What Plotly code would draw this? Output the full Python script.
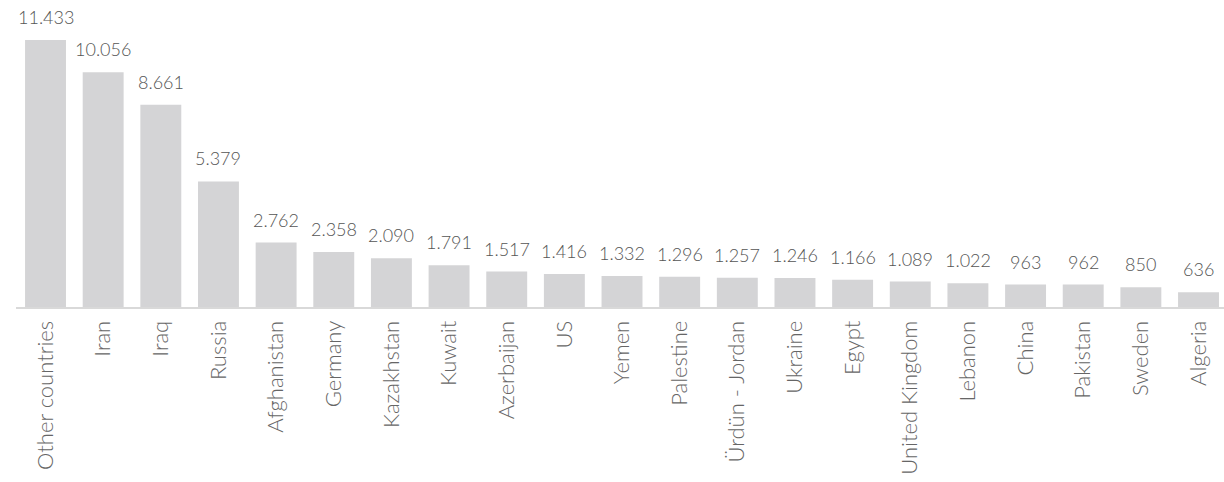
import plotly.graph_objects as go

countries = ["Other countries", "Iran", "Iraq", "Russia", "Afghanistan", "Germany",
             "Kazakhstan", "Kuwait", "Azerbaijan", "US", "Yemen", "Palestine",
             "Ürdün - Jordan", "Ukraine", "Egypt", "United Kingdom", "Lebanon",
             "China", "Pakistan", "Sweden", "Algeria"]
counts = [11433, 10056, 8661, 5379, 2762, 2358, 2090, 1791, 1517, 1416, 1332, 1296,
          1257, 1246, 1166, 1089, 1022, 963, 962, 850, 636]

FONT = "Lato"

fig = go.Figure(go.Bar(
    x=countries,
    y=counts,
    marker=dict(color="#d4d4d6", line=dict(width=0)),
    hovertemplate="%{x}: %{y:,}<extra></extra>",
))

# value labels above each bar, dot as thousands separator
for name, value in zip(countries, counts):
    fig.add_annotation(
        x=name, y=value,
        text=f"{value:,}".replace(",", "."),
        showarrow=False,
        xanchor="center", yanchor="bottom", yshift=10,
        font=dict(family=FONT, size=18, color="#555555", weight=300),
    )

fig.update_layout(
    width=1224, height=482,
    margin=dict(l=16, r=0, t=20, b=175),
    paper_bgcolor="white", plot_bgcolor="white",
    separators=",.",
    bargap=0.29,
    showlegend=False,
    xaxis=dict(
        range=[-0.512, 20.442],
        tickangle=-90,
        tickfont=dict(family=FONT, size=22, color="#666666", weight=300),
        showline=True, linecolor="#d9d9d9", linewidth=2,
        ticks="outside", ticklen=3, tickcolor="rgba(0,0,0,0)",
        showgrid=False,
    ),
    yaxis=dict(visible=False, range=[0, 12290], showgrid=False),
)

fig.write_html("out.html")
